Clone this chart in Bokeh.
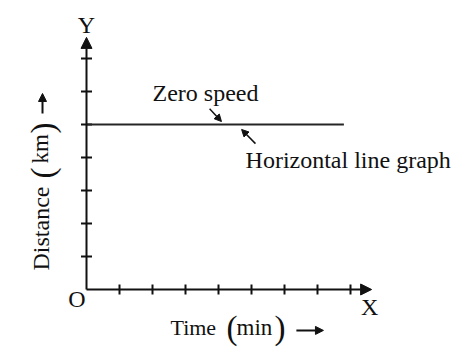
import math
from bokeh.plotting import figure
from bokeh.models import Range1d, Label, Arrow, NormalHead
from bokeh.embed import file_html
from bokeh.resources import INLINE

# ---- data ----
time_ticks = [1, 2, 3, 4, 5, 6, 7, 8]
dist_ticks = [1, 2, 3, 4, 5, 6, 7]
line_time = [0, 7.8]
line_dist = [5, 5]
x_axis_end = 8.64
y_axis_end = 7.64

FONT = "Liberation Serif"
INK = "#111111"
DY = 0.24  # baseline correction

p = figure(width=466, height=355, output_backend="svg", toolbar_location=None,
           x_range=Range1d(-86 / 33, 380 / 33), y_range=Range1d(-66 / 33, 289 / 33),
           min_border=0, outline_line_color=None)
p.axis.visible = False
p.grid.visible = False
p.background_fill_color = "white"
p.border_fill_color = "white"

# axes with arrowheads
p.add_layout(Arrow(x_start=0, y_start=0, x_end=x_axis_end, y_end=0, line_width=2, line_color=INK,
                   end=NormalHead(size=11, fill_color=INK, line_color=INK, line_width=1)))
p.add_layout(Arrow(x_start=0, y_start=0, x_end=0, y_end=y_axis_end, line_width=2, line_color=INK,
                   end=NormalHead(size=11, fill_color=INK, line_color=INK, line_width=1)))

# tick marks
p.scatter(x=time_ticks, y=[0] * len(time_ticks), marker="dash", size=10, angle=math.pi / 2,
          line_color=INK, line_width=2)
p.scatter(x=[0] * len(dist_ticks), y=dist_ticks, marker="dash", size=11,
          line_color=INK, line_width=2)

# the horizontal distance-time line
p.line(x=line_time, y=line_dist, line_width=2, line_color="#262626")

def lab(text, x, y, size=24, align="left", angle=0.0):
    if angle:
        x -= DY
    else:
        y += DY
    p.add_layout(Label(x=x, y=y, text=text, text_font=FONT, text_font_size=f"{size}px",
                       text_color=INK, text_align=align, text_baseline="alphabetic",
                       angle=angle))

lab("Y", 0, 7.79, align="center")
lab("X", 8.58, -0.76, align="center")
lab("O", -0.29, -0.52, align="center")
lab("Zero speed", 2.0, 5.70)
lab("Horizontal line graph", 4.82, 3.67)

# x axis title
lab("Time", 2.545, -1.394, size=22)
lab("(", 4.24, -1.42, size=33)
lab("min", 4.545, -1.394, size=23)
lab(")", 5.70, -1.42, size=33)
p.add_layout(Arrow(x_start=6.36, y_start=-1.24, x_end=7.18, y_end=-1.24, line_width=2, line_color=INK,
                   end=NormalHead(size=8, fill_color=INK, line_color=INK, line_width=1)))

# y axis title
rot = math.pi / 2
lab("Distance", -1.152, 0.576, angle=rot)
lab("(", -1.09, 3.36, size=33, angle=rot)
lab("km", -1.152, 3.82, size=23, angle=rot)
lab(")", -1.09, 4.73, size=33, angle=rot)
p.add_layout(Arrow(x_start=-1.333, y_start=5.33, x_end=-1.333, y_end=5.94, line_width=2, line_color=INK,
                   end=NormalHead(size=8, fill_color=INK, line_color=INK, line_width=1)))

# pointer arrows
p.add_layout(Arrow(x_start=3.73, y_start=5.48, x_end=4.09, y_end=5.09, line_width=1.5, line_color=INK,
                   end=NormalHead(size=7, fill_color=INK, line_color=INK, line_width=1)))
p.add_layout(Arrow(x_start=5.12, y_start=4.42, x_end=4.70, y_end=4.85, line_width=1.5, line_color=INK,
                   end=NormalHead(size=7, fill_color=INK, line_color=INK, line_width=1)))

open("out.html", "w").write(file_html(p, INLINE))
